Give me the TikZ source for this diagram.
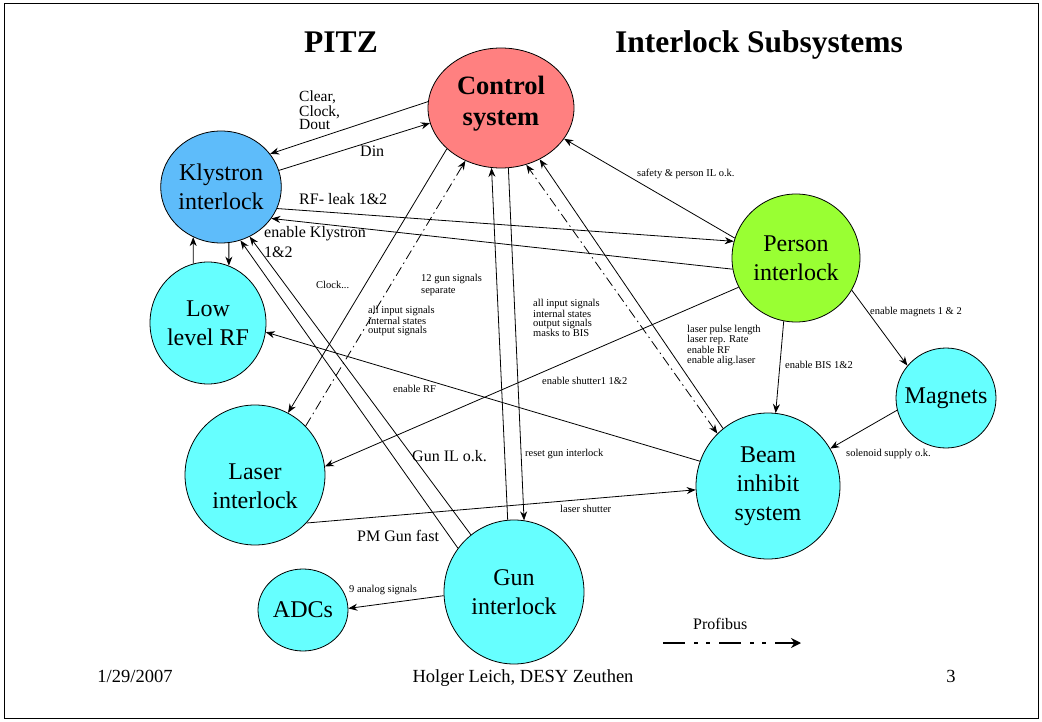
\documentclass[tikz,border=0pt]{standalone}
\usepackage{fontspec}
\setmainfont{Liberation Serif}
\usetikzlibrary{shapes.geometric,arrows.meta}
\definecolor{ctrlred}{RGB}{255,128,128}
\definecolor{klyblue}{RGB}{94,188,250}
\definecolor{cyanfill}{RGB}{102,255,255}
\definecolor{pgreen}{RGB}{153,255,51}
\begin{document}
\begin{tikzpicture}[x=1pt,y=-1pt,
  sys/.style={ellipse,draw=black,line width=0.8pt,inner sep=0pt,align=center,font=\fontsize{24}{29}\selectfont},
  arr/.style={-{Stealth[length=9pt,width=7pt]},line width=0.8pt},
  pbus/.style={line width=0.8pt,dash pattern=on 10pt off 4pt on 1.5pt off 4pt},
  legendline/.style={line width=2.6pt,dash pattern=on 22pt off 9pt on 4pt off 8pt on 4pt off 9pt,-{Stealth[length=10pt,width=10pt]}},
  sm/.style={font=\fontsize{10.5}{9}\selectfont,align=left,inner sep=0pt,anchor=north west},
  smb/.style={font=\fontsize{10.5}{9}\selectfont,inner sep=0pt,anchor=base west},
  md/.style={font=\fontsize{15.5}{12.5}\selectfont,align=left,inner sep=0pt,anchor=north west},
  mdb/.style={font=\fontsize{16}{12.5}\selectfont,inner sep=0pt,anchor=base west},
  ttl/.style={font=\bfseries\fontsize{31.5}{36}\selectfont,inner sep=0pt,anchor=base},
  foot/.style={font=\fontsize{18.5}{22}\selectfont,inner sep=0pt,anchor=base},
]
\useasboundingbox (0,0) rectangle (1042,722);
\fill[white] (0,0) rectangle (1042,722);
\draw[line width=0.8pt] (4,3) rectangle (1038,718);

% titles and footer
\node[ttl] (t1) at (341,53) {PITZ};
\node[ttl] (t2) at (759,53) {Interlock Subsystems};
\node[foot] (f1) at (135,682) {1/29/2007};
\node[foot] (f2) at (523,682) {Holger Leich, DESY Zeuthen};
\node[foot] (f3) at (951,682) {3};

% systems
\node[sys,fill=ctrlred,minimum width=146pt,minimum height=120pt,font=\bfseries\fontsize{26.5}{31}\selectfont] (ctrl) at (501,108) {Control\\system\rule[-14.5pt]{0pt}{0pt}};
\node[sys,fill=klyblue,minimum width=120pt,minimum height=112pt] (kly) at (221,187) {Klystron\\interlock};
\node[sys,fill=cyanfill,minimum width=116pt,minimum height=122pt] (llrf) at (208,323) {Low\\level RF};
\node[sys,fill=cyanfill,minimum width=140pt,minimum height=140pt] (laser) at (255,475) {\rule{0pt}{38pt}Laser\\interlock};
\node[sys,fill=cyanfill,minimum width=140pt,minimum height=144pt] (gun) at (514,592) {Gun\\interlock};
\node[sys,fill=cyanfill,minimum width=90pt,minimum height=82pt] (adc) at (303,610) {ADCs};
\node[sys,fill=cyanfill,minimum width=144pt,minimum height=146pt] (bis) at (768,486) {Beam\\inhibit\\system};
\node[sys,shape=circle,fill=cyanfill,minimum size=100pt] (mag) at (946,398) {Magnets};
\node[sys,fill=pgreen,minimum width=128pt,minimum height=128pt] (pers) at (796,258) {Person\\interlock};

% connectors
\draw[arr] (ctrl.175) -- (kly.34);
\draw[arr] (kly.16) -- (ctrl.192);
\draw[arr] (kly.339) -- (pers.165);
\draw[arr] (pers.190) -- (kly.328);
\draw[arr] (llrf.104) -- (kly.241);
\draw[arr] (kly.278) -- (llrf.70);
\draw[arr] (gun.142) -- (kly.290);
\draw[arr] (gun.127) -- (kly.300);
\draw[arr] (ctrl.217) -- (laser.62);
\draw[pbus,-{Stealth[length=9pt,width=7pt]}] (laser.44) -- (ctrl.236);
\draw[arr] (pers.207) -- (laser.7);
\draw[arr] (laser.317) -- (bis.183);
\draw[arr] (gun.95) -- (ctrl.261);
\draw[arr] (ctrl.277) -- (gun.82);
\draw[pbus,{Stealth[length=9pt,width=7pt]}-{Stealth[length=9pt,width=7pt]}] (bis.134) -- (ctrl.294);
\draw[arr] (bis.128) -- (ctrl.307);
\draw[arr] (pers.162) -- (ctrl.334);
\draw[arr] (bis.160) -- (llrf.351);
\draw[arr] (pers.259) -- (bis.84);
\draw[arr] (pers.330) -- (mag.140);
\draw[arr] (mag.194) -- (bis.31);
\draw[arr] (gun.183) -- (adc.2);

% labels
\node[md] (l1) at (299,91) {Clear,\\Clock,\\Dout};
\node[mdb] (l2) at (360,157) {Din};
\node[mdb] (l3) at (299,205) {RF- leak 1\&2};
\node[md,font=\fontsize{16}{20}\selectfont] (l4) at (264,226) {enable Klystron\\1\&2};
\node[smb] (l5) at (316,289) {Clock...};
\node[sm,font=\fontsize{10.5}{12}\selectfont] (l6) at (421,274) {12 gun signals\\separate};
\node[sm] (l7) at (368,306) {all input signals\\internal states\\output signals};
\node[sm] (l8) at (533,299) {all input signals\\internal states\\output signals\\masks to BIS};
\node[smb] (l9) at (542,384) {enable shutter1 1\&2};
\node[smb] (l10) at (637,177) {safety \& person IL o.k.};
\node[sm,font=\fontsize{10.5}{10.3}\selectfont] (l11) at (687,325) {laser pulse length\\laser rep. Rate\\enable RF\\enable alig.laser};
\node[smb] (l12) at (785,368) {enable BIS 1\&2};
\node[smb] (l13) at (870,314) {enable magnets 1 \& 2};
\node[smb] (l14) at (393,392) {enable RF};
\node[mdb] (l15) at (412,461) {Gun IL o.k.};
\node[smb] (l16) at (525,456) {reset gun interlock};
\node[smb] (l17) at (560,512) {laser shutter};
\node[mdb] (l18) at (357,541) {PM Gun fast};
\node[smb] (l19) at (846,456) {solenoid supply o.k.};
\node[smb] (l20) at (349,592) {9 analog signals};

% legend
\node[mdb] (lgt) at (693,629) {Profibus};
\coordinate (lg1) at (663,643);
\coordinate (lg2) at (801,643);
\draw[legendline] (lg1) -- (lg2);
\end{tikzpicture}
\end{document}
